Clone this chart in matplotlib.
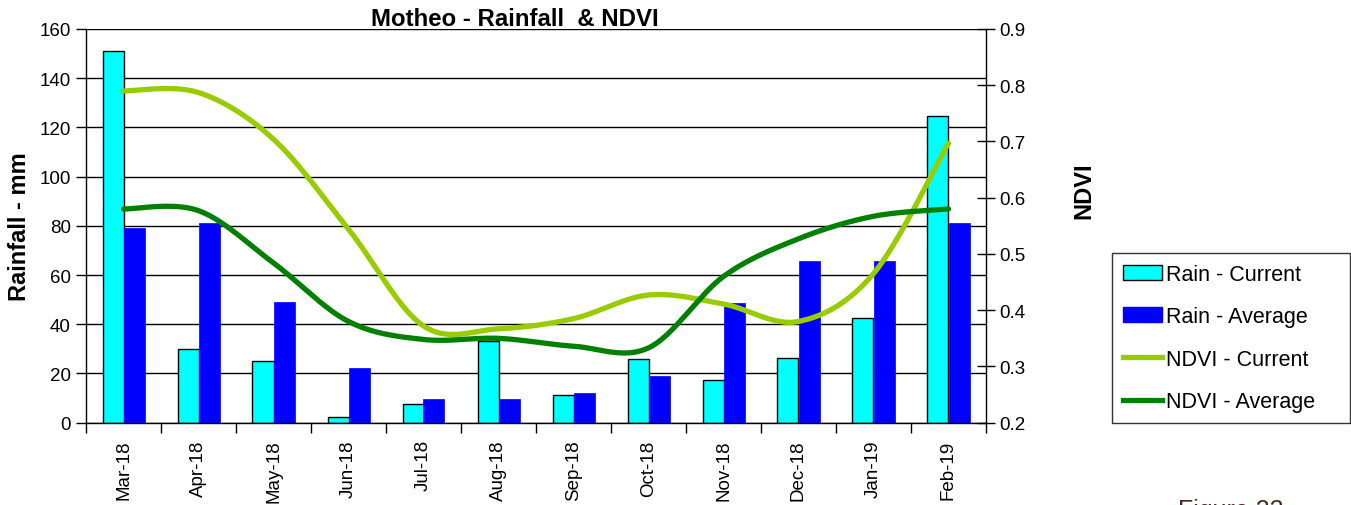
import numpy as np
import matplotlib
matplotlib.use('Agg')
import matplotlib.pyplot as plt
from matplotlib.patches import Patch
from matplotlib.lines import Line2D

plt.rcParams['font.family'] = ['Liberation Sans', 'DejaVu Sans']

# Monthly data for Motheo
months = ['Mar-18', 'Apr-18', 'May-18', 'Jun-18', 'Jul-18', 'Aug-18',
          'Sep-18', 'Oct-18', 'Nov-18', 'Dec-18', 'Jan-19', 'Feb-19']
rain_current = [151, 30, 25, 2.5, 7.5, 33, 11.3, 25.7, 17.5, 26.3, 42.6, 124.8]
rain_average = [79.2, 81, 49, 22.2, 9.5, 9.6, 12.2, 19, 48.5, 65.9, 65.9, 81.3]
ndvi_current = [0.79, 0.787, 0.704, 0.544, 0.372, 0.367, 0.385, 0.427, 0.411, 0.38, 0.465, 0.697]
ndvi_average = [0.58, 0.577, 0.484, 0.38, 0.348, 0.35, 0.336, 0.333, 0.46, 0.527, 0.567, 0.58]

C_CUR = '#00FFFF'
C_AVG = '#0000FF'
C_NDVI_CUR = '#99CC00'
C_NDVI_AVG = '#008000'


def smooth(x, y, n=40):
    # Bezier smoothing through every point, same scheme as spreadsheet "smoothed line"
    x = np.asarray(x, float)
    y = np.asarray(y, float)
    px = np.concatenate([[x[0]], x, [x[-1]]])
    py = np.concatenate([[y[0]], y, [y[-1]]])
    t = np.linspace(0, 1, n)
    xs, ys = [], []
    for i in range(1, len(x)):
        p0x, p0y = px[i], py[i]
        p3x, p3y = px[i + 1], py[i + 1]
        b1x = p0x + (p3x - px[i - 1]) / 6
        b1y = p0y + (p3y - py[i - 1]) / 6
        b2x = p3x - (px[i + 2] - p0x) / 6
        b2y = p3y - (py[i + 2] - p0y) / 6
        a = (1 - t) ** 3
        b = 3 * (1 - t) ** 2 * t
        c = 3 * (1 - t) * t ** 2
        d = t ** 3
        xs.append(a * p0x + b * b1x + c * b2x + d * p3x)
        ys.append(a * p0y + b * b1y + c * b2y + d * p3y)
    return np.concatenate(xs), np.concatenate(ys)


fig = plt.figure(figsize=(13.51, 5.06), dpi=100)
ax = fig.add_axes([86 / 1351, 1 - 423.7 / 506, 900 / 1351, 393.7 / 506])

x = np.arange(len(months))
w = 0.28
ax.bar(x - w / 2, rain_current, width=w, color=C_CUR, edgecolor='black', linewidth=1, zorder=2)
ax.bar(x + w / 2, rain_average, width=w, color=C_AVG, edgecolor=C_AVG, linewidth=0.5, zorder=2)

ax.set_xlim(-0.5, len(months) - 0.5)
ax.set_ylim(0, 160)
ax.set_yticks(np.arange(0, 161, 20))
ax.tick_params(axis='y', labelsize=13.5, length=7, width=1, direction='out', pad=4, colors='black')
ax.yaxis.grid(True, color='black', linewidth=1)
ax.set_axisbelow(True)

# category boundaries carry the ticks, labels sit at the centres
ax.set_xticks(np.arange(-0.5, len(months), 1))
ax.set_xticklabels([])
ax.set_xticks(x, minor=True)
ax.set_xticklabels(months, minor=True, rotation=90, fontsize=13.5)
ax.tick_params(axis='x', which='major', length=7, width=1, direction='out')
ax.tick_params(axis='x', which='minor', length=0, pad=12)

for s in ['top', 'right']:
    ax.spines[s].set_visible(False)
for s in ['left', 'bottom']:
    ax.spines[s].set_linewidth(1)

ax.set_ylabel('Rainfall - mm', fontsize=17, fontweight='bold', labelpad=6)

ax2 = ax.twinx()
ax2.set_ylim(0.2, 0.9)
ax2.set_yticks(np.arange(0.2, 0.91, 0.1))
ax2.set_yticklabels([f'{v:.1f}' for v in np.arange(0.2, 0.91, 0.1)])
ax2.tick_params(axis='y', labelsize=13.5, length=13, width=1, direction='inout', pad=3)
for s in ['top', 'left', 'bottom']:
    ax2.spines[s].set_visible(False)
ax2.spines['right'].set_linewidth(1)
ax2.set_ylabel('NDVI', fontsize=17, fontweight='bold')
ax2.yaxis.set_label_coords((1072 - 86) / 900, 0.591)

sx, sy = smooth(x, ndvi_current)
ax2.plot(sx, sy, color=C_NDVI_CUR, linewidth=3.8, solid_capstyle='round', zorder=3)
sx, sy = smooth(x, ndvi_average)
ax2.plot(sx, sy, color=C_NDVI_AVG, linewidth=3.8, solid_capstyle='round', zorder=3)

fig.text(515 / 1351, 1 - 20 / 506, 'Motheo - Rainfall  & NDVI', ha='center', va='center',
         fontsize=17.3, fontweight='bold')

handles = [
    Patch(facecolor=C_CUR, edgecolor='black', linewidth=1),
    Patch(facecolor=C_AVG, edgecolor=C_AVG),
    Line2D([], [], color=C_NDVI_CUR, linewidth=3.8),
    Line2D([], [], color=C_NDVI_AVG, linewidth=3.8),
]
labels = ['Rain - Current', 'Rain - Average', 'NDVI - Current', 'NDVI - Average']
leg = fig.legend(handles, labels, loc='upper left',
                 bbox_to_anchor=(1112 / 1351, 1 - 254 / 506 - 0.01, 238 / 1351, 0.01), mode='expand',
                 fontsize=15.5, frameon=True, fancybox=False, edgecolor='black',
                 handlelength=1.8, handletextpad=0.2, labelspacing=1.0,
                 borderpad=0.5, borderaxespad=0)
leg.get_frame().set_linewidth(1)

fig.text(1178 / 1351, 1 - 499 / 506, 'Figure 23', ha='left', va='top', fontsize=18, color='#4a2a22')

fig.savefig('out.png', dpi=100)
